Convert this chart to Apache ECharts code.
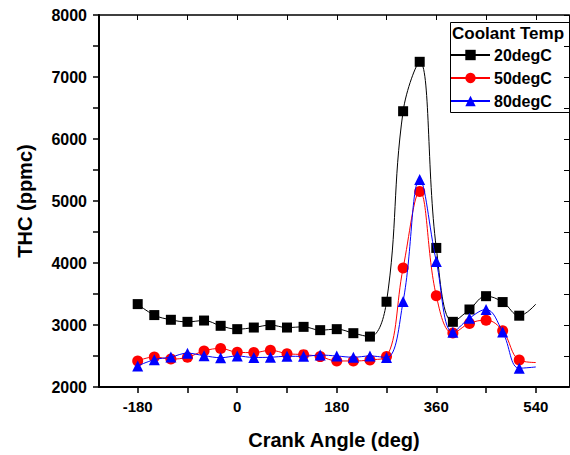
<!DOCTYPE html>
<html>
<head>
<meta charset="utf-8">
<script src="https://cdn.jsdelivr.net/npm/echarts@6/dist/echarts.min.js"></script>
<style>
html,body{margin:0;padding:0;background:#fff;}
#c{width:570px;height:455px;}
</style>
</head>
<body>
<div id="c"></div>
<script>
// Crank angle (deg)
var crankAngle = [-180,-150,-120,-90,-60,-30,0,30,60,90,120,150,180,210,240,270,300,330,360,390,420,450,480,510,540];
// THC (ppmc) per coolant temperature
var thc20 = [3337,3160,3084,3051,3072,2987,2933,2959,2998,2959,2970,2917,2933,2868,2813,3375,6448,7245,4243,3051,3250,3465,3370,3150,3337];
var thc50 = [2420,2485,2450,2480,2582,2622,2560,2555,2592,2538,2522,2490,2420,2420,2437,2490,3920,5154,3472,2870,3026,3078,2906,2435,2395];
var thc80 = [2340,2440,2483,2545,2505,2473,2500,2476,2480,2495,2495,2515,2500,2480,2500,2475,3380,5348,4026,2884,3110,3250,2888,2303,2323];
var seriesNames = ['20degC','50degC','80degC'];
var legendTitle = 'Coolant Temp';
var xLabelTicks = [-180,0,180,360,540];
var xAllTicks = [-180,-90,0,90,180,270,360,450,540];
var yLabelTicks = [2000,3000,4000,5000,6000,7000,8000];
var yAllTicks = [2000,2500,3000,3500,4000,4500,5000,5500,6000,6500,7000,7500,8000];

function build(vals){
  return crankAngle.map(function(x,i){
    var d = {value:[x, vals[i]]};
    if (i === crankAngle.length-1) d.symbol = 'none';
    return d;
  });
}
function plain(v){ return String(v); }

var FONT = '"Liberation Sans", Arial, sans-serif';
var chart = echarts.init(document.getElementById('c'), null, {renderer:'svg'});
var option = {
  animation:false,
  backgroundColor:'#fff',
  grid: {left:99, top:15, right:1, bottom:68, containLabel:false},
  xAxis: [{
    type:'value', min:-250, max:600, position:'bottom',
    name:'Crank Angle (deg)', nameLocation:'middle', nameGap:43,
    nameTextStyle:{fontFamily:FONT, fontWeight:'bold', fontSize:20, color:'#000'},
    axisLine:{show:true, onZero:false, lineStyle:{color:'#000', width:2}},
    axisTick:{show:true, inside:false, length:6, customValues:xAllTicks, lineStyle:{color:'#000', width:1.5}},
    axisLabel:{show:true, customValues:xLabelTicks, formatter:plain, margin:12, fontFamily:FONT, fontWeight:'bold', fontSize:15, color:'#000'},
    splitLine:{show:false}
  },{
    type:'value', min:-250, max:600, position:'top',
    axisLine:{show:true, onZero:false, lineStyle:{color:'#000', width:1.5}},
    axisTick:{show:true, inside:true, length:5, customValues:xAllTicks, lineStyle:{color:'#000', width:1}},
    axisLabel:{show:false},
    splitLine:{show:false}
  }],
  yAxis: [{
    type:'value', min:2000, max:8000, position:'left',
    name:'THC (ppmc)', nameLocation:'middle', nameGap:64, nameRotate:90,
    nameTextStyle:{fontFamily:FONT, fontWeight:'bold', fontSize:20, color:'#000'},
    axisLine:{show:true, onZero:false, lineStyle:{color:'#000', width:2}},
    axisTick:{show:true, inside:false, length:6, customValues:yAllTicks, lineStyle:{color:'#000', width:1.5}},
    axisLabel:{show:true, customValues:yLabelTicks, formatter:plain, margin:12, fontFamily:FONT, fontWeight:'bold', fontSize:16, color:'#000'},
    splitLine:{show:false}
  },{
    type:'value', min:2000, max:8000, position:'right',
    axisLine:{show:true, onZero:false, lineStyle:{color:'#000', width:1}},
    axisTick:{show:true, inside:true, length:5, customValues:yAllTicks, lineStyle:{color:'#000', width:1}},
    axisLabel:{show:false},
    splitLine:{show:false}
  }],
  legend: {
    show:true, orient:'vertical', left:450, top:46,
    itemWidth:39, itemHeight:13, itemGap:5, padding:0,
    data: seriesNames,
    textStyle:{fontFamily:FONT, fontWeight:'bold', fontSize:16, color:'#000', lineHeight:18, padding:[0,0,0,-1]}
  },
  graphic: [
    {type:'rect', left:448, top:20, shape:{width:119, height:90}, style:{fill:'none', stroke:'#000', lineWidth:1}, z:100},
    {type:'text', left:452, top:25, style:{text:legendTitle, font:'bold 17px "Liberation Sans", Arial, sans-serif', fill:'#000'}, z:100}
  ],
  series: [
    {name:seriesNames[0], type:'line', data:build(thc20), smooth:0.4, symbol:'rect', symbolSize:10,
     lineStyle:{color:'#000', width:1}, itemStyle:{color:'#000'}, z:2},
    {name:seriesNames[1], type:'line', data:build(thc50), smooth:0.4, symbol:'circle', symbolSize:11,
     lineStyle:{color:'#ff0000', width:1}, itemStyle:{color:'#ff0000'}, z:3},
    {name:seriesNames[2], type:'line', data:build(thc80), smooth:0.4, symbol:'triangle', symbolSize:11,
     lineStyle:{color:'#0000ff', width:1}, itemStyle:{color:'#0000ff'}, z:4}
  ]
};
chart.setOption(option);
</script>
</body>
</html>
